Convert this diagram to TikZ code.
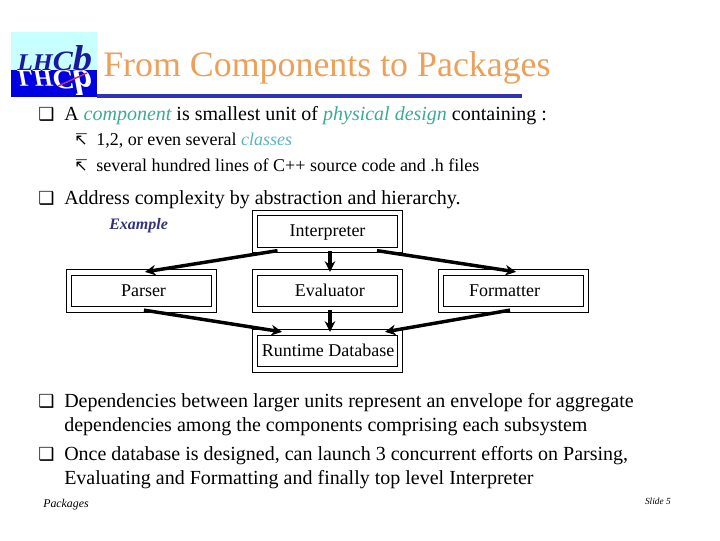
\documentclass[tikz,border=0pt]{standalone}
\usepackage{fontspec}
\setmainfont{Liberation Serif}
\newfontfamily\symfont{DejaVu Sans}
\usetikzlibrary{arrows.meta, calc}
\definecolor{titleorange}{RGB}{236, 160, 90}
\definecolor{ruleblue}{RGB}{50, 50, 180}
\definecolor{compteal}{RGB}{60, 170, 150}
\definecolor{classteal}{RGB}{90, 180, 190}
\definecolor{examplenavy}{RGB}{50, 50, 130}
\definecolor{logocyan}{RGB}{200, 255, 255}
\definecolor{logoblue}{RGB}{0, 0, 225}
\definecolor{logoink}{RGB}{25, 25, 160}
\definecolor{logopink}{RGB}{190, 50, 110}
\newcommand{\logoword}{\fontsize{18}{18}\selectfont LH\fontsize{21}{21}\selectfont C\fontsize{27}{27}\selectfont b}
\tikzset{
  pkgbox/.style={draw, double, line width=0.95pt, double distance=3.2pt, minimum width=108.75pt, minimum height=27.75pt, inner sep=0pt, text height=10.5pt, text depth=2.3pt, font=\fontsize{13.5}{13.5}\selectfont},
  linetext/.style={anchor=base west, inner sep=0pt, font=\fontsize{15}{15}\selectfont},
  subtext/.style={anchor=base west, inner sep=0pt, font=\fontsize{13.5}{13.5}\selectfont},
  bulletmark/.style={anchor=base west, inner sep=0pt, font=\symfont\fontsize{13.5}{13.5}\selectfont},
  submark/.style={anchor=base west, inner sep=0pt, font=\symfont\fontsize{12}{12}\selectfont},
  deparrow/.style={-{Stealth[length=8pt,width=8pt]}, line width=2.6pt},
}
\begin{document}
\begin{tikzpicture}[x=0.75pt, y=-0.75pt]
  \useasboundingbox (0,0) rectangle (720,540);
  % logo
  \fill[logocyan] (11,32) rectangle (97,70);
  \fill[logoblue] (11,70) rectangle (97,97);
  \node[anchor=base west, inner sep=0pt, text=white, xscale=1.07, yscale=-1, font=\bfseries\itshape] (logob) at (17,70) {\logoword};
  \draw[logopink, line width=1.1pt] (58,86) -- (87,73);
  \node[anchor=base west, inner sep=0pt, text=logoink, xscale=1.07, font=\bfseries\itshape] (logoa) at (17,70) {\logoword};
  % title
  \fill[ruleblue] (97,93.5) rectangle (522,97.5);
  \node[anchor=base west, inner sep=0pt, text=titleorange, font=\fontsize{26.9}{26.9}\selectfont] (title) at (103,76) {From Components to Packages};
  % text
  \node[bulletmark] (b1) at (38,120) {❑};
  \node[linetext] (t1) at (64,120) {A \textcolor{compteal}{\itshape component} is smallest unit of \textcolor{compteal}{\itshape physical design} containing :};
  \node[submark] (s1) at (74,145.5) {↸};
  \node[subtext] (u1) at (96,145.5) {1,2, or even several \textcolor{classteal}{\itshape classes}};
  \node[submark] (s2) at (74,171) {↸};
  \node[subtext] (u2) at (96,171) {several hundred lines of C++ source code and .h files};
  \node[bulletmark] (b2) at (38,204) {❑};
  \node[linetext] (t2) at (64,204) {Address complexity by abstraction and hierarchy.};
  \node[anchor=base west, inner sep=0pt, text=examplenavy, font=\fontsize{12}{12}\selectfont\bfseries\itshape] (ex) at (109,229) {Example};
  % boxes
  \node[pkgbox] (intp) at (327.5,231.5) {Interpreter};
  \node[pkgbox] (eval) at (327.5,291) {\hspace*{3.5pt}Evaluator};
  \node[pkgbox] (pars) at (141.5,291) {\hspace*{3pt}Parser};
  \node[pkgbox] (form) at (513.5,291) {Formatter\hspace*{13.5pt}};
  \node[pkgbox] (rtdb) at (327.5,351) {\hspace*{1pt}Runtime Database};
  \draw[deparrow] ($(intp.south)+(-50,0)$) -- ($(pars.north)+(3.5,0)$);
  \draw[deparrow] ($(intp.south)+(49.5,0)$) -- ($(form.north)+(2.5,0)$);
  \draw[deparrow] ($(pars.south)+(2.5,0)$) -- ($(rtdb.north)+(-45.5,0)$);
  \draw[deparrow] ($(form.south)+(-3.5,0)$) -- ($(rtdb.north)+(57.5,0)$);
  \foreach \i/\j in {intp/eval,eval/rtdb} \draw[deparrow] ($(\i.south)+(2.5,0)$)--($(\j.north)+(2.5,0)$);
  % lower text
  \node[bulletmark] (b3) at (38,407) {❑};
  \node[linetext] (t3) at (64,407) {Dependencies between larger units represent an envelope for aggregate};
  \node[linetext] (t4) at (64,431) {dependencies among the components comprising each subsystem};
  \node[bulletmark] (b4) at (38,460) {❑};
  \node[linetext] (t5) at (64,460) {Once database is designed, can launch 3 concurrent efforts on Parsing,};
  \node[linetext] (t6) at (64,484) {Evaluating and Formatting and finally top level Interpreter};
  % footer
  \node[anchor=base west, inner sep=0pt, font=\fontsize{8.9}{8.9}\selectfont\itshape] (foot) at (43,507) {Packages};
  \node[anchor=base east, inner sep=0pt, font=\fontsize{7}{7}\selectfont\itshape] (slide) at (671,504) {Slide 5};
\end{tikzpicture}
\end{document}
